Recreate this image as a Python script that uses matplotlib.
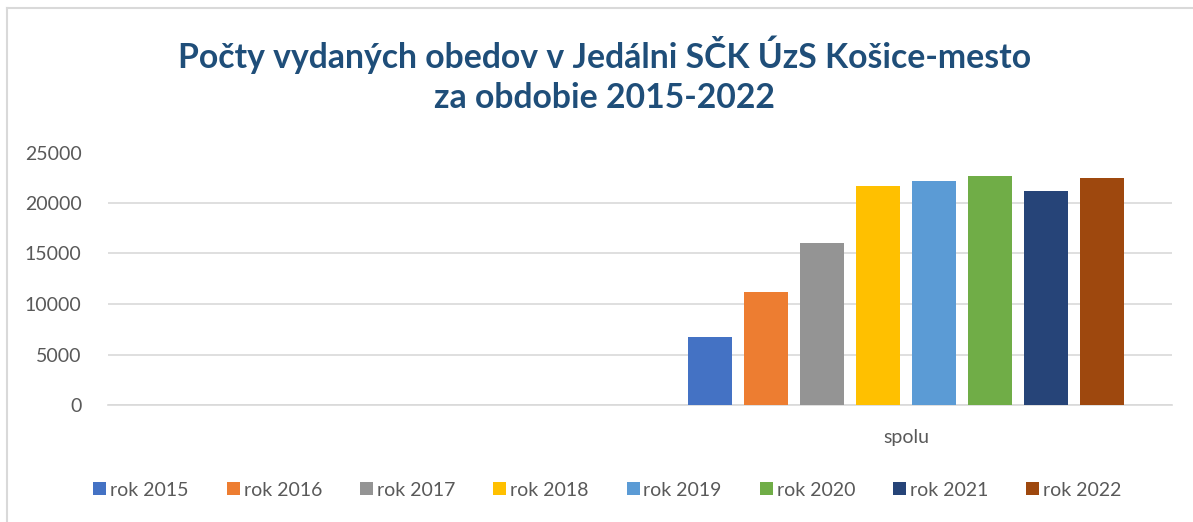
import matplotlib
matplotlib.use("Agg")
import matplotlib.pyplot as plt
from matplotlib.lines import Line2D

plt.rcParams['font.family'] = ['Lato', 'DejaVu Sans']

categories = ["", "spolu"]
series = ["rok 2015", "rok 2016", "rok 2017", "rok 2018",
          "rok 2019", "rok 2020", "rok 2021", "rok 2022"]
values_spolu = [6700, 11200, 16000, 21700, 22200, 22700, 21200, 22500]
colors = ["#4472C4", "#ED7D31", "#949494", "#FFC000",
          "#5B9BD5", "#70AD47", "#264478", "#9E480E"]
yticks = [0, 5000, 10000, 15000, 20000, 25000]
title_lines = ["Počty vydaných obedov v Jedálni SČK ÚzS Košice-mesto",
               "za obdobie 2015-2022"]

W, H = 1193, 522
fig = plt.figure(figsize=(W / 100, H / 100), dpi=100)
ax = fig.add_axes([108 / W, (H - 405) / H, (1172 - 108) / W, (405 - 152.5) / H])

text_col = "#595959"
grid_col = "#D9D9D9"

pitch = 0.1
width = 0.0786
cat_idx = categories.index("spolu")
n = len(series)
for i, (name, v, c) in enumerate(zip(series, values_spolu, colors)):
    ax.bar(cat_idx + (i - (n - 1) / 2) * pitch, v, width=width, color=c,
           label=name, zorder=3)

ax.set_xlim(-0.425, 1.475)
ax.set_ylim(0, 25000)
ax.set_yticks(yticks)
ax.set_yticklabels([str(t) for t in yticks])
ax.set_xticks(range(len(categories)))
ax.set_xticklabels(categories)
ax.grid(axis='y', color=grid_col, linewidth=1.2, zorder=0)
ax.set_axisbelow(True)
for s in ['top', 'right', 'left']:
    ax.spines[s].set_visible(False)
ax.spines['bottom'].set_color(grid_col)
ax.spines['bottom'].set_linewidth(1.2)
ax.tick_params(axis='both', length=0, labelsize=14, labelcolor=text_col)
ax.tick_params(axis='y', pad=19)
ax.tick_params(axis='x', pad=17)

fig.text(0.507, (H - 55) / H, title_lines[0], ha='center', va='center',
         fontsize=24.3, fontweight='bold', color="#1F4E79")
fig.text(0.507, (H - 98) / H, title_lines[1], ha='center', va='center',
         fontsize=24.3, fontweight='bold', color="#1F4E79")

leg = fig.legend(loc='center', bbox_to_anchor=(607.5 / W, (H - 490) / H),
                 ncol=8, frameon=False, fontsize=14,
                 handlelength=0.67, handleheight=0.67, handletextpad=0.2,
                 columnspacing=1.95, borderaxespad=0, borderpad=0)
for t in leg.get_texts():
    t.set_color(text_col)

# chart area border (left and top visible in crop)
fig.add_artist(Line2D([7.5 / W, 7.5 / W], [0, (H - 8) / H], color=grid_col,
                      linewidth=1.5, transform=fig.transFigure))
fig.add_artist(Line2D([7.5 / W, 1], [(H - 8) / H, (H - 8) / H], color=grid_col,
                      linewidth=1.5, transform=fig.transFigure))

fig.savefig("out.png", dpi=100)
